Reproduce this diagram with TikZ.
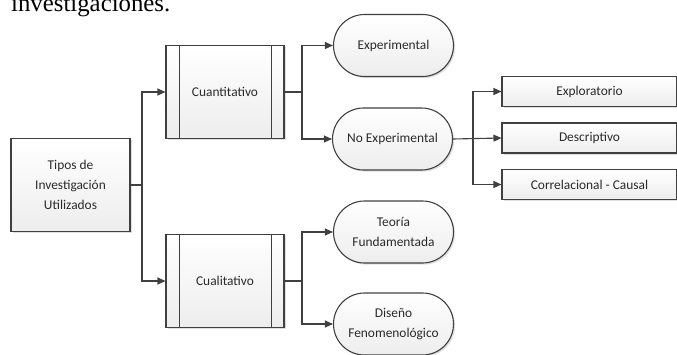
\documentclass[tikz,border=0pt]{standalone}
\usepackage{fontspec}
\setmainfont{Carlito}
\newfontfamily\serifpara{Liberation Serif}
\usetikzlibrary{arrows.meta,shapes.misc,shadows}
\definecolor{edge}{HTML}{404040}
\definecolor{txt}{HTML}{2A2A2A}
\tikzset{
  base/.style={draw=edge, line width=1.1pt, top color=white, bottom color=gray!14,
    text=txt, font=\fontsize{13.4}{20}\selectfont, align=center, inner sep=0pt,
    drop shadow={shadow xshift=1.6pt, shadow yshift=-1.6pt, opacity=0.25, fill=gray}},
  procbox/.style={base, rectangle, minimum width=118pt, minimum height=93pt},
  rootbox/.style={base, rectangle, minimum width=119pt, minimum height=93pt},
  pill/.style={base, rounded rectangle, minimum width=120pt, minimum height=62pt},
  flatbox/.style={base, rectangle, minimum width=175pt, minimum height=30pt},
  conn/.style={draw=edge, line width=1.1pt, -{Triangle[length=8pt,width=7pt]}},
  plain/.style={draw=edge, line width=1.1pt},
}
\begin{document}
\begin{tikzpicture}[x=1pt,y=-1pt]
\useasboundingbox (0,0) rectangle (677,354);
\clip (0,0) rectangle (677,354);
\node[anchor=base west, inner sep=0pt, font=\serifpara\fontsize{24.8}{26}\selectfont] (para) at (11,11) {investigaciones.};

\node[rootbox] (root) at (70.5,185) {Tipos de\\Investigación\\Utilizados};
\node[procbox] (cuan) at (225,92) {Cuantitativo};
\node[procbox] (cual) at (225,281) {Cualitativo};
\foreach \b in {cuan,cual}{
  \draw[plain] ([xshift=14pt]\b.north west) -- ([xshift=14pt]\b.south west);
  \draw[plain] ([xshift=-13pt]\b.north east) -- ([xshift=-13pt]\b.south east);
}
\node[pill] (exp) at (393.5,45.5) {Experimental};
\node[pill] (noexp) at (392.5,139) {No Experimental};
\node[pill] (teo) at (393.5,232) {Teoría\\Fundamentada};
\node[pill] (dis) at (393.5,324) {Diseño\\Fenomenológico};
\node[flatbox] (explo) at (589.5,91.5) {Exploratorio};
\node[flatbox] (desc) at (589.5,138) {Descriptivo};
\node[flatbox] (corr) at (589.5,184.5) {Correlacional - Causal};

\coordinate (j1) at (142,185);
\draw[conn] (root.east |- j1) -- (j1) |- (cuan.west);
\draw[conn] (j1) |- (cual.west);

\coordinate (j2) at (302,92);
\draw[conn] (cuan.east) -- (j2) |- (exp.west);
\draw[conn] (j2) |- (noexp.west);

\coordinate (j3) at (302,281);
\draw[conn] (cual.east) -- (j3) |- (teo.west);
\draw[conn] (j3) |- (dis.west);

\coordinate (j4) at (473,138);
\draw[conn] (noexp.east) -- (desc.west);
\draw[conn] (j4) |- (explo.west);
\draw[conn] (j4) |- (corr.west);
\end{tikzpicture}
\end{document}
